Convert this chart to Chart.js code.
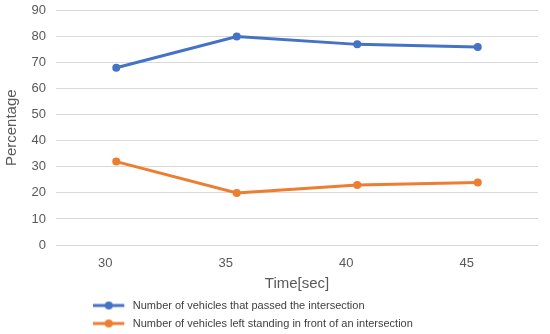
<!DOCTYPE html>
<html>
<head>
<meta charset="utf-8">
<script src="https://cdn.jsdelivr.net/npm/chart.js@4"></script>
<style>
    html, body { margin: 0; padding: 0; background: #fff; }
    #wrap { width: 550px; height: 334px; }
</style>
</head>
<body>
<div id="wrap"><canvas id="chart"></canvas></div>
<script>
// Datos
const timeLabels = ['30', '35', '40', '45'];
const passedValues = [68, 80, 77, 76];
const leftValues = [32, 20, 23, 24];
const seriesNames = [
    'Number of vehicles that passed the intersection',
    'Number of vehicles left standing in front of an intersection'
];
const yMin = 0;
const yMax = 90;
const yStep = 10;

const BLUE = '#4472c4';
const ORANGE = '#ed7d31';
const FONT = '"Liberation Sans", Arial, sans-serif';

// icono de leyenda estilo Excel: línea + punto
const legendIcon = (color) => {
    const c = document.createElement('canvas');
    c.width = 34; c.height = 10;
    const g = c.getContext('2d');
    g.strokeStyle = color;
    g.lineWidth = 3;
    g.beginPath(); g.moveTo(0, 5); g.lineTo(31, 5); g.stroke();
    g.fillStyle = color;
    g.beginPath(); g.arc(15.5, 5, 4, 0, Math.PI * 2); g.fill();
    return c;
};
const icons = [legendIcon(BLUE), legendIcon(ORANGE)];

// mueve la leyenda a la derecha como en el original
const legendShift = {
    id: 'legendShift',
    afterLayout(chart) {
        const lg = chart.legend;
        const dx = 86.3 - lg.left;
        lg.left += dx;
        lg.right += dx;
    }
};

new Chart(document.getElementById('chart'), {
    type: 'line',
    data: {
        labels: timeLabels,
        datasets: [
            {
                label: seriesNames[0],
                data: passedValues,
                borderColor: BLUE,
                backgroundColor: BLUE,
                borderWidth: 3,
                pointRadius: 4,
                pointBorderWidth: 0,
                pointHoverRadius: 4,
                tension: 0
            },
            {
                label: seriesNames[1],
                data: leftValues,
                borderColor: ORANGE,
                backgroundColor: ORANGE,
                borderWidth: 3,
                pointRadius: 4,
                pointBorderWidth: 0,
                pointHoverRadius: 4,
                tension: 0
            }
        ]
    },
    options: {
        responsive: true,
        maintainAspectRatio: false,
        animation: false,
        layout: { padding: { left: 0, right: 12, top: 0, bottom: -5 } },
        scales: {
            x: {
                offset: true,
                grid: { display: false, drawTicks: false },
                border: { display: false },
                ticks: { color: '#595959', font: { family: FONT, size: 13 }, padding: 11, labelOffset: -11 },
                title: {
                    display: true,
                    text: 'Time[sec]',
                    color: '#595959',
                    font: { family: FONT, size: 15 },
                    padding: { top: 0, bottom: 0 }
                },
                afterFit(scale) { scale.height = 48; }
            },
            y: {
                min: yMin,
                max: yMax,
                grid: { color: '#d9d9d9', lineWidth: 1, drawTicks: false },
                border: { display: false },
                ticks: { stepSize: yStep, color: '#595959', font: { family: FONT, size: 13 }, padding: 10 },
                title: {
                    display: true,
                    text: 'Percentage',
                    color: '#595959',
                    font: { family: FONT, size: 15 },
                    padding: { top: 3, bottom: 4 }
                },
                afterFit(scale) {
                    scale.width = 56;
                    scale.paddingTop = 10.5;
                    scale.paddingBottom = 0;
                }
            }
        },
        plugins: {
            legend: {
                position: 'bottom',
                align: 'start',
                labels: {
                    color: '#404040',
                    font: { family: FONT, size: 11 },
                    usePointStyle: true,
                    pointStyleWidth: 34,
                    padding: 7,
                    generateLabels(chart) {
                        return chart.data.datasets.map((ds, i) => ({
                            text: ds.label,
                            fillStyle: ds.borderColor,
                            strokeStyle: ds.borderColor,
                            lineWidth: 0,
                            pointStyle: icons[i],
                            hidden: false,
                            datasetIndex: i,
                            fontColor: '#404040'
                        }));
                    }
                }
            },
            tooltip: { enabled: false }
        }
    },
    plugins: [legendShift]
});
</script>
</body>
</html>
